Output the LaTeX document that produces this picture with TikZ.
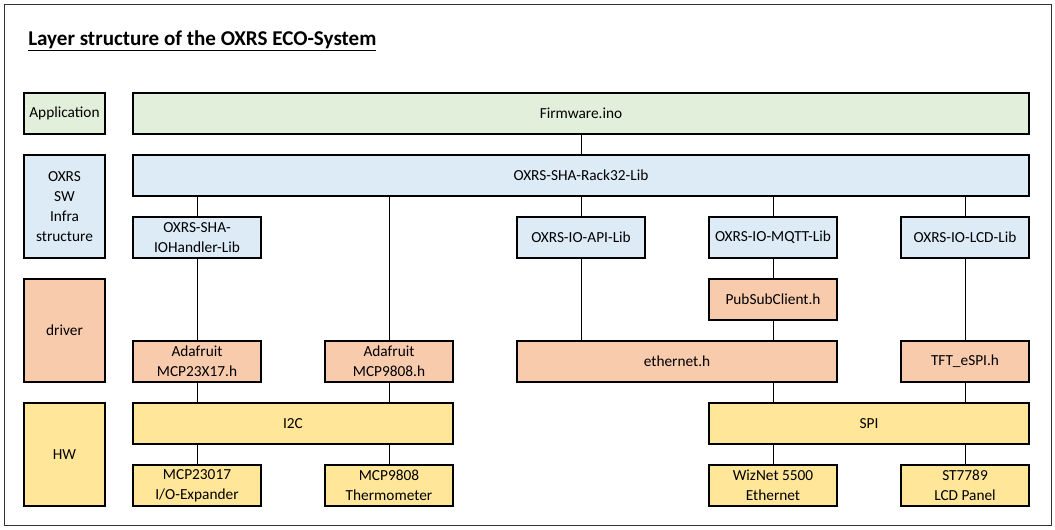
\documentclass[tikz,border=0pt]{standalone}
\usepackage{fontspec}
\setmainfont{Carlito}
\definecolor{appgreen}{HTML}{E2EFDA}
\definecolor{swblue}{HTML}{DDEBF7}
\definecolor{drvorange}{HTML}{F8CBAD}
\definecolor{hwyellow}{HTML}{FFE699}
\begin{document}
\begin{tikzpicture}[x=0.75pt,y=-0.75pt,
    layer/.style={draw, line width=1.5pt, inner sep=0pt, align=center,
        font=\fontsize{11.5}{15}\selectfont, minimum height=30.75pt, minimum width=96pt},
    wide/.style={minimum width=240pt},
    side/.style={minimum width=60.75pt},
    tall/.style={minimum height=77.25pt}]
\useasboundingbox (0,0) rectangle (1055,529);
\draw[line width=0.75pt, black!80] (4,4) rectangle (1051,525);
\node[anchor=base west, inner sep=0pt, font=\fontsize{15.8}{18}\selectfont\bfseries] (title) at (28,45) {\underline{Layer structure of the OXRS ECO-System}};

% left legend
\node[layer, side, fill=appgreen] (app) at (64.5,113.5) {Application};
\node[layer, side, tall, fill=swblue] (infra) at (64.5,206.5) {OXRS\\SW\\Infra\\structure};
\node[layer, side, tall, fill=drvorange] (drv) at (64.5,330.5) {driver};
\node[layer, side, tall, fill=hwyellow] (hw) at (64.5,454.5) {HW};

% application and infrastructure
\node[layer, minimum width=672pt, fill=appgreen] (fw) at (581,113.5) {Firmware.ino};
\node[layer, minimum width=672pt, fill=swblue] (rack) at (581,175.5) {OXRS-SHA-Rack32-Lib};
\node[layer, fill=swblue] (io) at (197,237.5) {OXRS-SHA-\\IOHandler-Lib};
\node[layer, fill=swblue] (api) at (581,237.5) {OXRS-IO-API-Lib};
\node[layer, fill=swblue] (mqtt) at (773,237.5) {OXRS-IO-MQTT-Lib};
\node[layer, fill=swblue] (lcd) at (965,237.5) {OXRS-IO-LCD-Lib};

% drivers
\node[layer, fill=drvorange] (pub) at (773,299.5) {PubSubClient.h};
\node[layer, fill=drvorange] (mcpxh) at (197,361.5) {Adafruit\\MCP23X17.h};
\node[layer, fill=drvorange] (mcpth) at (389,361.5) {Adafruit\\MCP9808.h};
\node[layer, wide, fill=drvorange] (eth) at (677,361.5) {ethernet.h};
\node[layer, fill=drvorange] (tft) at (965,361.5) {TFT\_eSPI.h};

% hardware
\node[layer, wide, fill=hwyellow] (i2c) at (293,423.5) {I2C};
\node[layer, wide, fill=hwyellow] (spi) at (869,423.5) {SPI};
\node[layer, fill=hwyellow] (mcpx) at (197,485.5) {MCP23017\\I/O-Expander};
\node[layer, fill=hwyellow] (mcpt) at (389,485.5) {MCP9808\\Thermometer};
\node[layer, fill=hwyellow] (wiz) at (773,485.5) {WizNet 5500\\Ethernet};
\node[layer, fill=hwyellow] (st) at (965,485.5) {ST7789\\LCD Panel};

% connectors
\foreach \a/\b in {fw/rack, rack/io, rack/mcpth, rack/api, rack/mqtt, rack/lcd,
    io/mcpxh, mqtt/pub, lcd/tft, i2c/mcpx, i2c/mcpt, spi/wiz, spi/st}
    \draw (\b.north) -- (\b.north |- \a.south);
\foreach \a/\b in {mcpxh/i2c, mcpth/i2c, api/eth, pub/eth, tft/spi}
    \draw (\a.south) -- (\a.south |- \b.north);
\draw (wiz.north |- eth.south) -- (wiz.north |- spi.north);
\end{tikzpicture}
\end{document}
